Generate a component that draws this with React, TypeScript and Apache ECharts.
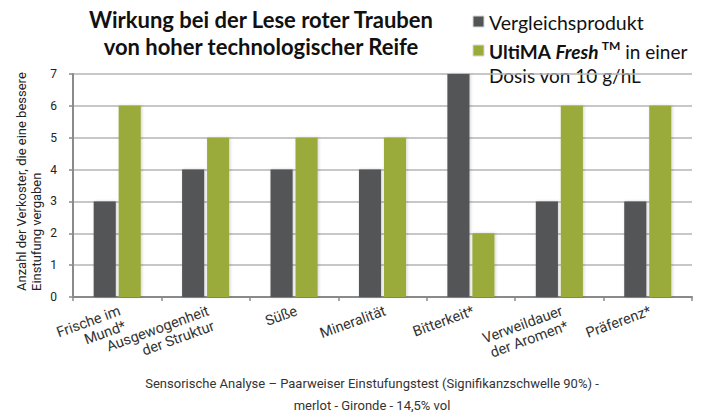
import React, { useEffect, useRef } from "react";
import * as echarts from "echarts";

const categories = [
  "Frische im\nMund*",
  "Ausgewogenheit\nder Struktur",
  "Süße",
  "Mineralität",
  "Bitterkeit*",
  "Verweildauer\nder Aromen*",
  "Präferenz*",
];
const vergleich = [3, 4, 4, 4, 7, 3, 3];
const ultima = [6, 5, 5, 5, 2, 6, 6];
const yTicks = { min: 0, max: 7, interval: 1 };

const DARK = "#535456";
const GREEN = "#9bab3a";

export default function App() {
  const ref = useRef<HTMLDivElement>(null);
  useEffect(() => {
    document.body.style.margin = "0";
    const chart = echarts.init(ref.current!, null, { renderer: "svg" });
    const barCommon = {
      type: "bar" as const,
      barWidth: "25%",
      barGap: "13%",
    };
    const shadow = {
      shadowColor: "rgba(0,0,0,0.18)",
      shadowBlur: 3,
      shadowOffsetX: 1,
      shadowOffsetY: 0,
    };
    chart.setOption({
      animation: false,
      grid: { left: 73, right: 26, top: 74, bottom: 122 },
      xAxis: {
        type: "category",
        data: categories,
        axisLine: { lineStyle: { color: "#8a8a8a", width: 2 } },
        axisTick: { show: true, length: 4, lineStyle: { color: "#8a8a8a", width: 1.5 } },
        axisLabel: {
          interval: 0,
          rotate: 20,
          margin: 6,
          align: "right",
          verticalAlign: "top",
          fontSize: 14.5,
          lineHeight: 16,
          color: "#333",
          fontFamily: "Roboto",
        },
      },
      yAxis: {
        type: "value",
        min: yTicks.min,
        max: yTicks.max,
        interval: yTicks.interval,
        axisLine: { show: true, lineStyle: { color: "#8a8a8a", width: 2 } },
        axisTick: { show: true, length: 4, lineStyle: { color: "#8a8a8a", width: 1.5 } },
        axisLabel: { fontSize: 12, color: "#222", margin: 16, fontFamily: "Roboto" },
        splitLine: { lineStyle: { color: "#b5b5b5", width: 1.5 } },
      },
      series: [
        {
          ...barCommon,
          name: "Vergleichsprodukt",
          data: vergleich,
          itemStyle: { color: DARK, ...shadow },
        },
        {
          ...barCommon,
          name: "UltiMA Fresh",
          data: ultima,
          itemStyle: { color: GREEN, ...shadow },
        },
      ],
      graphic: [
        {
          type: "text",
          x: 261,
          y: 6,
          style: {
            text: "Wirkung bei der Lese roter Trauben\nvon hoher technologischer Reife",
            font: "bold 22px Lato",
            fill: "#111",
            align: "center",
            verticalAlign: "top",
            lineHeight: 27,
          },
          z: 10,
        },
        {
          type: "rect",
          shape: { x: 473, y: 16, width: 11, height: 11 },
          style: { fill: DARK, stroke: "#d8d8d8", lineWidth: 1 },
        },
        {
          type: "text",
          x: 489,
          y: 22,
          style: {
            text: "Vergleichsprodukt",
            font: "19.5px Lato",
            fill: "#111",
            verticalAlign: "middle",
          },
        },
        {
          type: "rect",
          shape: { x: 473, y: 45, width: 11, height: 11 },
          style: { fill: GREEN, stroke: "#d8d8d8", lineWidth: 1 },
        },
        {
          type: "text",
          x: 489,
          y: 39,
          style: {
            text: "{b|UltiMA }{bi|Fresh} {sup|TM}{n| in einer}\n{n|Dosis von 10 g/hL}",
            fill: "#111",
            verticalAlign: "top",
            rich: {
              b: { font: "bold 19px Lato", fill: "#111", lineHeight: 24 },
              bi: { font: "italic bold 19px Lato", fill: "#111", lineHeight: 24 },
              sup: { font: "bold 12px Lato", fill: "#111", verticalAlign: "top", lineHeight: 6 },
              n: { font: "19px Lato", fill: "#111", lineHeight: 24 },
            },
          },
        },
        {
          type: "text",
          x: 29,
          y: 291,
          rotation: Math.PI / 2,
          style: {
            text: "Anzahl der Verkoster, die eine bessere\nEinstufung vergaben",
            font: "13px Roboto",
            fill: "#222",
            align: "left",
            verticalAlign: "middle",
            lineHeight: 15,
          },
        },
        {
          type: "text",
          x: 372,
          y: 372,
          style: {
            text:
              "Sensorische Analyse – Paarweiser Einstufungstest (Signifikanzschwelle 90%) -\nmerlot - Gironde - 14,5% vol",
            font: "13px Roboto",
            fill: "#333",
            align: "center",
            verticalAlign: "top",
            lineHeight: 22,
          },
        },
      ],
    });
    return () => chart.dispose();
  }, []);
  return <div ref={ref} style={{ width: 718, height: 419 }} />;
}
